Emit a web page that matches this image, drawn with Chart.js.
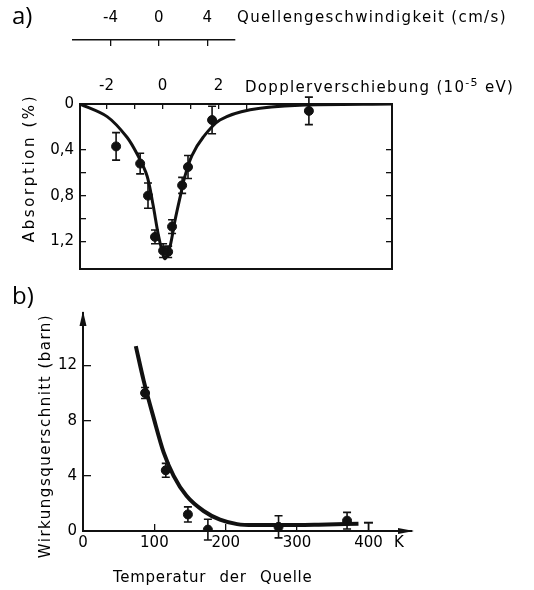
<!DOCTYPE html>
<html>
<head>
<meta charset="utf-8">
<script src="https://cdn.jsdelivr.net/npm/chart.js@4.4.0/dist/chart.umd.min.js"></script>
<style>
  html, body { margin: 0; padding: 0; background: #fff; }
  body { width: 534px; height: 590px; position: relative; overflow: hidden;
         font-family: "DejaVu Sans", sans-serif; color: #000; }
  .wrap { position: absolute; left: 0; }
  .lbl { position: absolute; white-space: nowrap; line-height: 1; font-size: 15px; }
  .panel { font-family: "Open Sans", sans-serif; font-size: 24px; color: #000; }
  .vert { transform: translate(-50%, -50%) rotate(-90deg); }
  sup { font-size: 11px; vertical-align: 6px; line-height: 0; }
</style>
</head>
<body>
<div class="wrap" style="top:0;width:534px;height:60px"><canvas id="velocity"></canvas></div>
<div class="wrap" style="top:0;width:534px;height:290px"><canvas id="absorption"></canvas></div>
<div class="wrap" style="top:290px;width:534px;height:300px"><canvas id="cross"></canvas></div>

<div class="lbl panel" style="left:12px;top:3px">a)</div>
<div class="lbl" style="left:237px;top:10px;letter-spacing:1.35px">Quellengeschwindigkeit (cm/s)</div>
<div class="lbl" style="left:245px;top:80px;letter-spacing:1.3px">Dopplerverschiebung (10<sup>-5</sup> eV)</div>
<div class="lbl vert" style="left:29px;top:168px;letter-spacing:2.6px">Absorption (%)</div>

<div class="lbl panel" style="left:12px;top:283px">b)</div>
<div class="lbl vert" style="left:45px;top:436px;letter-spacing:1.5px">Wirkungsquerschnitt (barn)</div>
<div class="lbl" style="left:113px;top:570px;word-spacing:8px;letter-spacing:0.7px">Temperatur der Quelle</div>
<div class="lbl" style="left:394px;top:535px">K</div>

<script>
// a) Mössbauer-Absorption gegen Dopplerverschiebung
const dopplerShift = [-1.66, -0.80, -0.52, -0.27, 0.02, 0.20, 0.34, 0.70, 0.91, 1.77, 5.23];
const absorption = [0.37, 0.52, 0.80, 1.16, 1.28, 1.29, 1.07, 0.71, 0.55, 0.14, 0.06];
const absorptionErr = [0.12, 0.09, 0.11, 0.06, 0.06, 0.05, 0.06, 0.07, 0.10, 0.12, 0.12];
const fitShift = [-2.95, -1.98, -1.27, -0.88, -0.55, -0.34, -0.16, -0.02, 0.09, 0.27, 0.45, 0.63, 0.80, 1.05, 1.45, 2.05, 3.13, 4.91, 8.2];
const fitAbsorption = [0, 0.11, 0.29, 0.45, 0.63, 0.88, 1.13, 1.28, 1.35, 1.24, 1.01, 0.81, 0.63, 0.45, 0.29, 0.14, 0.05, 0.01, 0];
const dopplerTicks = [-2, -1, 0, 1, 2, 3];
const dopplerLabels = [-2, 0, 2];
const absorptionTicks = [0, 0.4, 0.6, 0.8, 1.0, 1.2];
const absorptionLabels = [0, 0.4, 0.8, 1.2];
const velocityTicks = [-4, 0, 4];

// b) Wirkungsquerschnitt gegen Temperatur der Quelle
const temperature = [87, 116, 147, 175, 274, 370];
const crossSection = [10.0, 4.4, 1.2, 0.1, 0.3, 0.75];
const crossSectionErr = [0.4, 0.5, 0.55, 0.75, 0.8, 0.6];
const limitTemperature = [400];
const limitCrossSection = [0.6];
const fitTemperature = [74, 85, 99, 113, 127, 145, 169, 192, 216, 239, 280, 330, 386];
const fitCrossSection = [13.4, 10.9, 8.2, 5.7, 4.0, 2.55, 1.45, 0.82, 0.5, 0.43, 0.43, 0.46, 0.52];
const temperatureTicks = [0, 100, 200, 300, 400];
const crossSectionTicks = [0, 4, 8, 12];

const ink = '#111';
const tickFont = { family: 'DejaVu Sans', size: 15 };

function pairs(xs, ys) {
    return xs.map((x, i) => ({ x: x, y: ys[i] }));
}

function setTicks(values) {
    return function(scale) {
        scale.ticks = values.map(v => ({ value: v }));
    };
}

function fixWidth(w) {
    return function(scale) { scale.width = w; };
}

function fixHeight(h) {
    return function(scale) { scale.height = h; };
}

function commaLabel(labels) {
    return function(value) {
        if (!labels.includes(value)) return '';
        return String(value).replace('.', ',');
    };
}

// vertical error bars, drawn through the dataset's own y scale
const errorBars = {
    id: 'errorBars',
    afterDatasetsDraw(chart) {
        const ctx = chart.ctx;
        chart.data.datasets.forEach((ds, i) => {
            if (!ds.errors && !ds.stemToZero) return;
            const meta = chart.getDatasetMeta(i);
            const yScale = chart.scales[meta.yAxisID];
            ctx.save();
            ctx.strokeStyle = ink;
            ctx.lineWidth = 1.6;
            meta.data.forEach((pt, j) => {
                const v = ds.data[j].y;
                ctx.beginPath();
                if (ds.stemToZero) {
                    ctx.moveTo(pt.x, yScale.getPixelForValue(v));
                    ctx.lineTo(pt.x, yScale.getPixelForValue(0));
                } else {
                    const e = ds.errors[j];
                    const top = yScale.getPixelForValue(v + e);
                    const bottom = yScale.getPixelForValue(v - e);
                    ctx.moveTo(pt.x, top); ctx.lineTo(pt.x, bottom);
                    ctx.moveTo(pt.x - 4, top); ctx.lineTo(pt.x + 4, top);
                    ctx.moveTo(pt.x - 4, bottom); ctx.lineTo(pt.x + 4, bottom);
                }
                ctx.stroke();
            });
            ctx.restore();
        });
    }
};

// arrow heads on the open axes of panel b
const axisArrows = {
    id: 'axisArrows',
    afterDraw(chart) {
        const a = chart.chartArea;
        const ctx = chart.ctx;
        ctx.save();
        ctx.fillStyle = ink;
        ctx.beginPath();
        ctx.moveTo(a.left, a.top - 2);
        ctx.lineTo(a.left - 3.5, a.top + 13);
        ctx.lineTo(a.left + 3.5, a.top + 13);
        ctx.closePath();
        ctx.fill();
        ctx.beginPath();
        ctx.moveTo(a.right + 2, a.bottom);
        ctx.lineTo(a.right - 14, a.bottom - 3);
        ctx.lineTo(a.right - 14, a.bottom + 3);
        ctx.closePath();
        ctx.fill();
        ctx.restore();
    }
};

Chart.defaults.animation = false;
Chart.defaults.color = '#000';
Chart.defaults.font.family = 'DejaVu Sans';

// velocity scale above panel a
new Chart(document.getElementById('velocity'), {
    type: 'scatter',
    data: { datasets: [] },
    options: {
        responsive: true,
        maintainAspectRatio: false,
        layout: { padding: { left: 73, right: 299, top: 0, bottom: 10 } },
        plugins: { legend: { display: false }, tooltip: { enabled: false } },
        scales: {
            x: {
                type: 'linear', position: 'top', min: -7.1, max: 6.3,
                afterBuildTicks: setTicks(velocityTicks),
                afterFit: fixHeight(40),
                border: { color: ink, width: 1.6 },
                grid: { drawOnChartArea: false, tickLength: -6, color: ink, lineWidth: 1.3 },
                ticks: { font: tickFont, padding: 19, maxRotation: 0 }
            },
            y: { display: false, min: 0, max: 1 }
        }
    }
});

new Chart(document.getElementById('absorption'), {
    type: 'scatter',
    data: {
        datasets: [
            {
                data: pairs(dopplerShift, absorption),
                errors: absorptionErr,
                pointRadius: 4.5,
                pointBackgroundColor: ink,
                pointBorderColor: ink,
                showLine: false
            },
            {
                data: pairs(fitShift, fitAbsorption),
                showLine: true,
                borderColor: ink,
                borderWidth: 3,
                pointRadius: 0,
                tension: 0.3
            }
        ]
    },
    options: {
        responsive: true,
        maintainAspectRatio: false,
        layout: { padding: { left: 0, right: 142, top: 0, bottom: 20 } },
        plugins: { legend: { display: false }, tooltip: { enabled: false } },
        scales: {
            x: {
                type: 'linear', position: 'top', min: -2.95, max: 8.2,
                afterBuildTicks: setTicks(dopplerTicks),
                afterFit: fixHeight(104),
                border: { color: ink, width: 2 },
                grid: { drawOnChartArea: false, tickLength: -5, color: ink, lineWidth: 1.3 },
                ticks: { font: tickFont, padding: 14, maxRotation: 0, autoSkip: false,
                         callback: commaLabel(dopplerLabels) }
            },
            xb: {
                type: 'linear', position: 'bottom', min: -2.95, max: 8.2,
                afterFit: fixHeight(0),
                border: { color: ink, width: 2 },
                grid: { display: false, drawTicks: false },
                ticks: { display: false }
            },
            y: {
                type: 'linear', position: 'left', reverse: true, min: 0, max: 1.44,
                afterBuildTicks: setTicks(absorptionTicks),
                afterFit: fixWidth(80),
                border: { color: ink, width: 2 },
                grid: { drawOnChartArea: false, tickLength: -6, color: ink, lineWidth: 1.3 },
                ticks: { font: tickFont, padding: 12, autoSkip: false,
                         callback: commaLabel(absorptionLabels) }
            },
            yr: {
                type: 'linear', position: 'right', reverse: true, min: 0, max: 1.44,
                afterBuildTicks: setTicks(absorptionTicks.slice(1)),
                afterFit: fixWidth(0),
                border: { color: ink, width: 2 },
                grid: { drawOnChartArea: false, tickLength: -6, color: ink, lineWidth: 1.3 },
                ticks: { display: false }
            }
        }
    },
    plugins: [errorBars]
});

new Chart(document.getElementById('cross'), {
    type: 'scatter',
    data: {
        datasets: [
            {
                data: pairs(temperature, crossSection),
                errors: crossSectionErr,
                pointRadius: 4.5,
                pointBackgroundColor: ink,
                pointBorderColor: ink,
                showLine: false
            },
            {
                data: pairs(limitTemperature, limitCrossSection),
                stemToZero: true,
                pointStyle: 'line',
                pointRadius: 4.5,
                pointBorderWidth: 2,
                pointBorderColor: ink,
                showLine: false
            },
            {
                data: pairs(fitTemperature, fitCrossSection),
                showLine: true,
                borderColor: ink,
                borderWidth: 4,
                pointRadius: 0,
                cubicInterpolationMode: 'monotone'
            }
        ]
    },
    options: {
        responsive: true,
        maintainAspectRatio: false,
        layout: { padding: { left: 0, right: 122, top: 17, bottom: 0 } },
        plugins: { legend: { display: false }, tooltip: { enabled: false } },
        scales: {
            x: {
                type: 'linear', position: 'bottom', min: 0, max: 461,
                afterBuildTicks: setTicks(temperatureTicks),
                afterFit: fixHeight(59),
                border: { color: ink, width: 2 },
                grid: { drawOnChartArea: false, tickLength: -7, color: ink, lineWidth: 1.3 },
                ticks: { font: tickFont, padding: 10, maxRotation: 0, autoSkip: false }
            },
            y: {
                type: 'linear', position: 'left', min: 0, max: 15.8,
                afterBuildTicks: setTicks(crossSectionTicks),
                afterFit: fixWidth(83),
                border: { color: ink, width: 2 },
                grid: { drawOnChartArea: false, tickLength: -8, color: ink, lineWidth: 1.3 },
                ticks: { font: tickFont, padding: 14, autoSkip: false }
            }
        }
    },
    plugins: [errorBars, axisArrows]
});
</script>
</body>
</html>
